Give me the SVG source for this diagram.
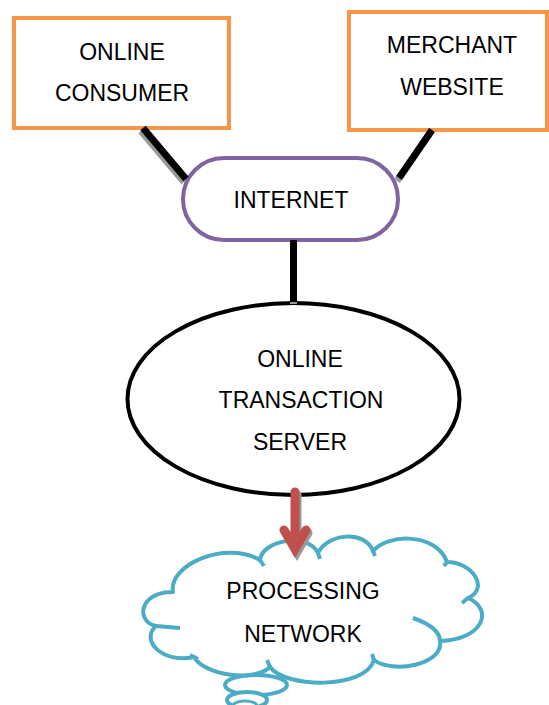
<svg xmlns="http://www.w3.org/2000/svg" width="549" height="705" viewBox="0 0 549 705">
<style>
.t{font-family:"Liberation Sans",Arial,sans-serif;font-size:23px;fill:#000;text-anchor:middle}
.box{fill:#fff;stroke:#F79646;stroke-width:4}
.cl{fill:none;stroke:#4BACC6;stroke-width:4;stroke-linecap:butt}
.blk{stroke:#000;stroke-width:7;fill:none}
.shd{stroke:#9a9a9a;stroke-width:7;fill:none}
</style>
<rect width="549" height="705" fill="#fff"/>
<g id="online-consumer">
<rect class="box" x="14" y="18" width="215" height="110"/>
<text class="t" x="122" y="60">ONLINE</text>
<text class="t" x="122" y="101">CONSUMER</text>
</g>
<g id="merchant-website">
<rect class="box" x="349" y="12" width="198" height="118"/>
<text class="t" x="452" y="53">MERCHANT</text>
<text class="t" x="452" y="95">WEBSITE</text>
</g>
<g id="internet">
<rect x="183" y="158" width="215" height="82" rx="41" ry="41" fill="#fff" stroke="#8064A2" stroke-width="4"/>
<text class="t" x="291" y="208">INTERNET</text>
</g>
<g id="transaction-server">
<ellipse cx="293.5" cy="399" rx="166" ry="96" fill="#fff" stroke="#000" stroke-width="4"/>
<text class="t" x="300" y="367">ONLINE</text>
<text class="t" x="301" y="408">TRANSACTION</text>
<text class="t" x="300" y="450">SERVER</text>
</g>
<g id="processing-network">
<ellipse cx="256" cy="685" rx="31" ry="10" fill="#fff" stroke="#4BACC6" stroke-width="4"/>
<ellipse cx="247" cy="700" rx="20" ry="8" fill="#fff" stroke="#4BACC6" stroke-width="4"/>
<ellipse cx="245" cy="706" rx="12" ry="5" fill="#fff" stroke="#4BACC6" stroke-width="3"/>
<path d="M173,592 C168,565 225,540 260,560 C262,540 308,532 318,553 C328,533 365,530 373,551 C388,533 437,533 447,562 C472,562 490,588 468,598 C495,610 482,640 440,641 C444,665 392,674 374,660 C365,690 285,688 270,667 C255,682 205,676 194,657 C162,664 140,640 156,626 C136,622 138,592 173,592 Z" fill="#fff" stroke="#4BACC6" stroke-width="4" stroke-linejoin="round"/>
<path class="cl" d="M156,626 Q168,627 180,628 M190,655 L198,659 M270,667 L267,660 M374,660 L372,654 M413,618 C430,624 440,632 440,641 M468,598 L462,603 M318,553 L320,559 M373,551 L375,556 M260,560 L264,566 M447,562 L444,566"/>
<text class="t" x="303" y="599">PROCESSING</text>
<text class="t" x="303" y="642">NETWORK</text>
</g>
<g id="connectors">
<line class="shd" x1="141" y1="131" x2="184" y2="182"/>
<line class="blk" x1="143" y1="128" x2="186" y2="179"/>
<line class="shd" x1="430" y1="133" x2="397" y2="181"/>
<line class="blk" x1="432" y1="130" x2="399" y2="178"/>
<line class="shd" x1="293.5" y1="243" x2="293.5" y2="304"/>
<line class="blk" x1="293.5" y1="240" x2="293.5" y2="302"/>
<g stroke-width="9" fill="none" stroke-linecap="round" stroke-linejoin="miter">
<path stroke="#9a9a9a" d="M297,495 V552 M286,533 L297,552 L308,533"/>
<path stroke="#C0504D" d="M295,492 V549 M284,530 L295,549 L306,530"/>
</g>
</g>
</svg>
